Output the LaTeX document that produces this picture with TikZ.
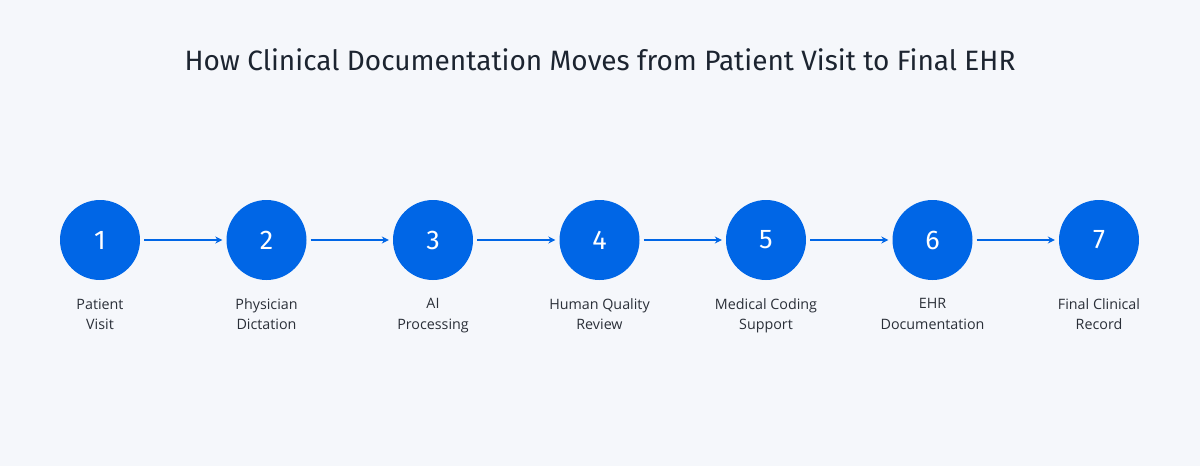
\documentclass[tikz,border=0pt]{standalone}
\usepackage{fontspec}
\setmainfont{Open Sans}
\newfontfamily\titlefont{Fira Sans}
\usetikzlibrary{arrows.meta}
\definecolor{bg}{HTML}{F5F7FB}
\definecolor{stepblue}{HTML}{0066E6}
\definecolor{ink}{HTML}{1C2430}
\definecolor{labelink}{HTML}{2A2F38}
\tikzset{
  stepcircle/.style={circle, fill=stepblue, minimum size=80pt, inner sep=0pt,
    text=white, font=\titlefont\fontsize{27}{27}\selectfont},
  steplabel/.style={align=center, text=labelink, anchor=north,
    font=\fontsize{14.3}{20.5}\selectfont},
  flow/.style={stepblue, line width=1.6pt, -{Stealth[length=7pt,width=7pt]}, shorten <=4pt, shorten >=4pt}
}
\begin{document}
\begin{tikzpicture}[x=1pt,y=-1pt]
\fill[bg] (0,0) rectangle (1200,466);
\useasboundingbox (0,0) rectangle (1200,466);
\node[text=ink, font=\titlefont\fontsize{28}{28}\selectfont] (title) at (600,60) {How Clinical Documentation Moves from Patient Visit to Final EHR};
\foreach \i/\x/\t in {1/100/{Patient\\Visit},2/266.5/{Physician\\Dictation},3/433/{AI\\Processing},4/599.5/{Human Quality\\Review},5/766/{Medical Coding\\Support},6/932.5/{EHR\\Documentation},7/1099/{Final Clinical\\Record}}{
  \node[stepcircle] (c\i) at (\x,240) {\i};
  \node[steplabel] (l\i) at (\x,295) {\t};
}
\foreach \a/\b in {1/2,2/3,3/4,4/5,5/6,6/7}{
  \draw[flow] (c\a) -- (c\b);
}
\end{tikzpicture}
\end{document}
